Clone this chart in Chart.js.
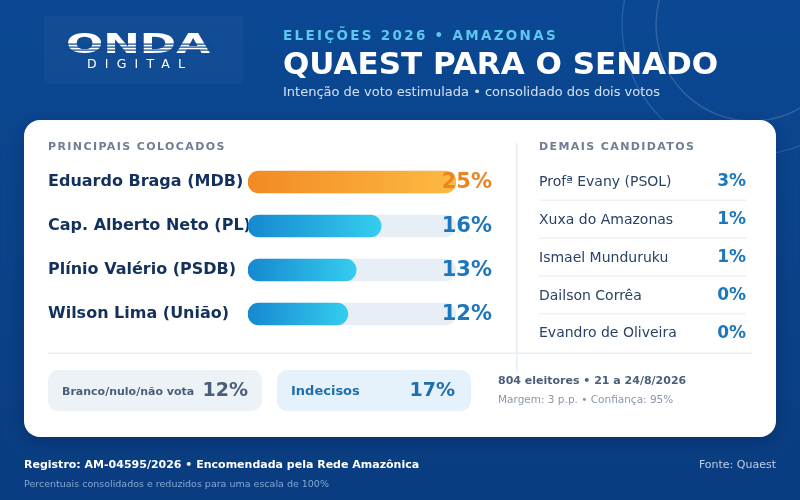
<!DOCTYPE html>
<html lang="pt-BR">
<head>
<meta charset="utf-8">
<title>Quaest para o Senado - Amazonas</title>
<script src="https://cdn.jsdelivr.net/npm/chart.js@4.4.1/dist/chart.umd.min.js"></script>
<style>
  html, body { margin: 0; padding: 0; background: #0a4590; }
  #wrap { width: 800px; height: 500px; }
</style>
</head>
<body>
<div id="wrap"><canvas id="chart" width="800" height="500"></canvas></div>
<script>
// Dados da pesquisa
const mainNames = ['Eduardo Braga (MDB)', 'Cap. Alberto Neto (PL)', 'Plínio Valério (PSDB)', 'Wilson Lima (União)'];
const mainValues = [25, 16, 13, 12];
const otherNames = ['Profª Evany (PSOL)', 'Xuxa do Amazonas', 'Ismael Munduruku', 'Dailson Corrêa', 'Evandro de Oliveira'];
const otherValues = [3, 1, 1, 0, 0];
const blankLabel = 'Branco/nulo/não vota';
const blankValue = 12;
const undecidedLabel = 'Indecisos';
const undecidedValue = 17;
const scaleMax = 25;

const FONT = '"DejaVu Sans", sans-serif';

function rrect(ctx, x, y, w, h, r) {
    ctx.beginPath();
    ctx.roundRect(x, y, w, h, r);
}

// Fundo, cartão e textos fixos
const backdrop = {
    id: 'backdrop',
    beforeDraw(chart) {
        const ctx = chart.ctx;
        ctx.save();
        const bg = ctx.createLinearGradient(0, 0, 0, 500);
        bg.addColorStop(0, '#0b4893');
        bg.addColorStop(1, '#093c80');
        ctx.fillStyle = bg;
        ctx.fillRect(0, 0, 800, 500);

        // circulos decorativos
        ctx.lineWidth = 1.5;
        ctx.strokeStyle = 'rgba(90,170,240,0.25)';
        ctx.beginPath(); ctx.arc(752, 25, 130, 0, Math.PI * 2); ctx.stroke();
        ctx.strokeStyle = 'rgba(200,210,230,0.2)';
        ctx.beginPath(); ctx.arc(752, 25, 96, 0, Math.PI * 2); ctx.stroke();

        // logo
        ctx.fillStyle = 'rgba(255,255,255,0.03)';
        ctx.fillRect(44, 16, 199, 68);
        ctx.save();
        ctx.fillStyle = '#ffffff';
        ctx.font = 'bold 26px ' + FONT;
        ctx.textBaseline = 'alphabetic';
        const w = ctx.measureText('ONDA').width;
        ctx.translate(66, 53);
        ctx.scale(144 / w, 1);
        ctx.fillText('ONDA', 0, 0);
        ctx.restore();
        ctx.fillStyle = '#0c4994';
        [43.5, 46.5, 49.5].forEach(y => ctx.fillRect(62, y, 152, 1.2));
        ctx.fillStyle = '#ffffff';
        ctx.font = '12.5px ' + FONT;
        ctx.letterSpacing = '8.2px';
        ctx.textAlign = 'left';
        ctx.fillText('DIGITAL', 87, 68);
        ctx.letterSpacing = '0px';

        // cabecalho
        ctx.textAlign = 'left';
        ctx.fillStyle = '#5cc8ef';
        ctx.font = 'bold 13.5px ' + FONT;
        ctx.letterSpacing = '2.3px';
        ctx.fillText('ELEIÇÕES 2026 • AMAZONAS', 283, 40);
        ctx.letterSpacing = '0px';
        ctx.fillStyle = '#ffffff';
        ctx.font = 'bold 31px ' + FONT;
        ctx.fillText('QUAEST PARA O SENADO', 283, 74);
        ctx.fillStyle = '#d3e1f3';
        ctx.font = '13px ' + FONT;
        ctx.fillText('Intenção de voto estimulada • consolidado dos dois votos', 283, 96);

        // cartao
        ctx.save();
        ctx.shadowColor = 'rgba(0,20,60,0.30)';
        ctx.shadowBlur = 18;
        ctx.shadowOffsetY = 4;
        ctx.fillStyle = '#ffffff';
        rrect(ctx, 24, 120, 752, 317, 16);
        ctx.fill();
        ctx.restore();

        // divisores
        ctx.fillStyle = '#e8eef5';
        ctx.fillRect(516, 143, 1.5, 229);
        ctx.fillRect(48, 352.5, 704, 1.5);

        ctx.fillStyle = '#6f7e93';
        ctx.font = 'bold 11px ' + FONT;
        ctx.letterSpacing = '1.4px';
        ctx.fillText('PRINCIPAIS COLOCADOS', 48, 150);
        ctx.fillText('DEMAIS CANDIDATOS', 539, 150);
        ctx.letterSpacing = '0px';

        // demais candidatos
        ctx.textBaseline = 'middle';
        otherNames.forEach((name, i) => {
            const y = 182 + i * 37.8;
            ctx.textAlign = 'left';
            ctx.fillStyle = '#2a4266';
            ctx.font = '14px ' + FONT;
            ctx.fillText(name, 539, y + 0.5);
            ctx.textAlign = 'right';
            ctx.fillStyle = '#1d77bd';
            ctx.font = 'bold 17px ' + FONT;
            ctx.fillText(otherValues[i] + '%', 746, y);
            if (i < otherNames.length - 1) {
                ctx.fillStyle = '#edf1f6';
                ctx.fillRect(539, y + 17.5, 207, 1.5);
            }
        });

        // caixas inferiores
        ctx.fillStyle = '#edf2f7';
        rrect(ctx, 48, 370, 214, 41, 10); ctx.fill();
        ctx.fillStyle = '#e5f1fb';
        rrect(ctx, 277, 370, 194, 41, 10); ctx.fill();
        ctx.textAlign = 'left';
        ctx.fillStyle = '#4b5e79';
        ctx.font = 'bold 11px ' + FONT;
        ctx.fillText(blankLabel, 62, 392);
        ctx.textAlign = 'right';
        ctx.font = 'bold 19px ' + FONT;
        ctx.fillText(blankValue + '%', 248, 391);
        ctx.fillStyle = '#1f6fae';
        ctx.textAlign = 'left';
        ctx.font = 'bold 13px ' + FONT;
        ctx.fillText(undecidedLabel, 291, 392);
        ctx.textAlign = 'right';
        ctx.font = 'bold 19px ' + FONT;
        ctx.fillText(undecidedValue + '%', 455, 391);

        ctx.textBaseline = 'alphabetic';
        ctx.textAlign = 'left';
        ctx.fillStyle = '#4b5e79';
        ctx.font = 'bold 11px ' + FONT;
        ctx.fillText('804 eleitores • 21 a 24/8/2026', 498, 384);
        ctx.fillStyle = '#8a97a8';
        ctx.font = '10.5px ' + FONT;
        ctx.fillText('Margem: 3 p.p. • Confiança: 95%', 498, 403);

        // rodape
        ctx.fillStyle = '#ffffff';
        ctx.font = 'bold 11px ' + FONT;
        ctx.fillText('Registro: AM-04595/2026 • Encomendada pela Rede Amazônica', 24, 468);
        ctx.fillStyle = '#86a8d4';
        ctx.font = '9.5px ' + FONT;
        ctx.fillText('Percentuais consolidados e reduzidos para uma escala de 100%', 24, 487);
        ctx.textAlign = 'right';
        ctx.fillStyle = '#bccfe8';
        ctx.font = '11px ' + FONT;
        ctx.fillText('Fonte: Quaest', 776, 468);
        ctx.restore();
    }
};

// Percentuais ao lado das barras
const valueLabels = {
    id: 'valueLabels',
    afterDatasetsDraw(chart) {
        const ctx = chart.ctx;
        const meta = chart.getDatasetMeta(0);
        const right = chart.scales.x.right + 36;
        ctx.save();
        ctx.font = 'bold 21px ' + FONT;
        ctx.textAlign = 'right';
        ctx.textBaseline = 'middle';
        meta.data.forEach((bar, i) => {
            ctx.fillStyle = i === 0 ? '#ec8420' : '#1d77bd';
            ctx.fillText(mainValues[i] + '%', right, bar.y + 1);
        });
        ctx.restore();
    }
};

function barFill(c) {
    const chart = c.chart;
    const lead = c.dataIndex === 0;
    if (!chart.chartArea || c.raw == null) return lead ? '#f59a2e' : '#22a6e0';
    const xs = chart.scales.x;
    const g = chart.ctx.createLinearGradient(xs.getPixelForValue(0), 0, xs.getPixelForValue(c.raw), 0);
    if (lead) {
        g.addColorStop(0, '#f28a24');
        g.addColorStop(1, '#fdba42');
    } else {
        g.addColorStop(0, '#1688d0');
        g.addColorStop(1, '#34cdef');
    }
    return g;
}

new Chart(document.getElementById('chart'), {
    type: 'bar',
    data: {
        labels: mainNames,
        datasets: [{
            data: mainValues,
            backgroundColor: barFill,
            order: 1
        }, {
            data: mainNames.map(() => scaleMax),
            backgroundColor: '#e7eef6',
            order: 2
        }]
    },
    options: {
        indexAxis: 'y',
        responsive: false,
        animation: false,
        events: [],
        datasets: {
            bar: {
                grouped: false,
                barThickness: 22,
                borderRadius: 11,
                borderSkipped: false
            }
        },
        layout: {
            padding: { left: 48, right: 344, top: 160, bottom: 164 }
        },
        plugins: {
            legend: { display: false },
            tooltip: { enabled: false }
        },
        scales: {
            x: {
                display: false,
                min: 0,
                max: scaleMax
            },
            y: {
                grid: { display: false },
                border: { display: false },
                afterFit(scale) { scale.width = 200; },
                ticks: {
                    crossAlign: 'far',
                    padding: 0,
                    color: '#13315c',
                    font: { family: FONT, size: 16, weight: 'bold' }
                }
            }
        }
    },
    plugins: [backdrop, valueLabels]
});
</script>
</body>
</html>
